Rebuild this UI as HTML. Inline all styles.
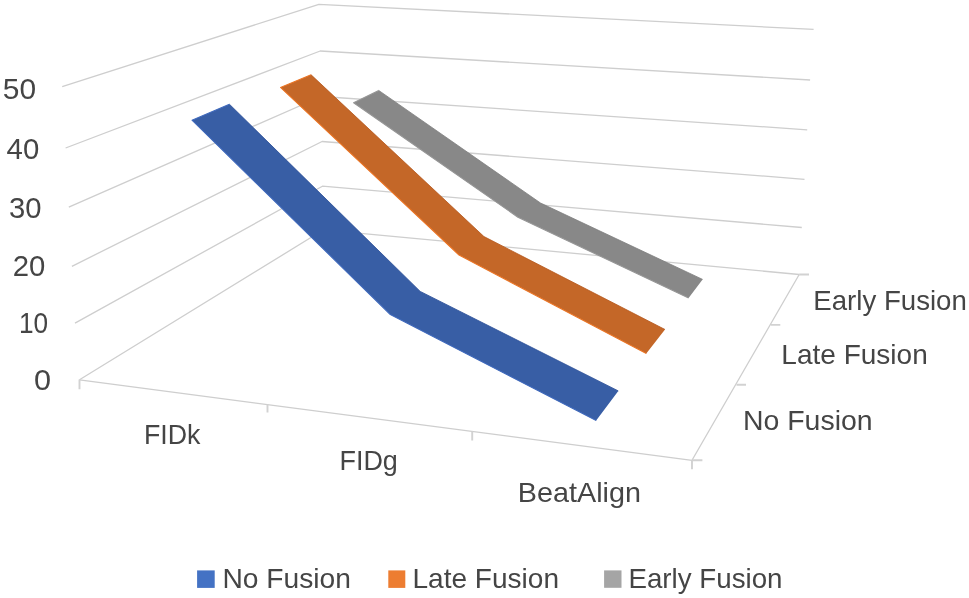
<!DOCTYPE html>
<html><head><meta charset="utf-8"><title>Chart</title>
<style>html,body{margin:0;padding:0;background:#fff}svg{display:block}</style></head>
<body>
<svg width="969" height="598" viewBox="0 0 969 598">
<rect width="969" height="598" fill="#fff"/>
<g fill="none" stroke="#cecece" stroke-width="1.3" stroke-linejoin="round" stroke-linecap="butt">
<polyline points="62.2,86.7 318.9,4.3 813.6,29.4"/>
<polyline points="65.6,148.0 320.2,51.0 810.1,80.0"/>
<polyline points="68.8,207.1 321.2,96.5 807.2,129.8"/>
<polyline points="71.9,266.3 322.1,141.5 804.5,179.3"/>
<polyline points="75.0,323.1 322.4,186.2 801.8,227.5"/>
<polyline points="79.5,379.8 323.5,229.8 799.2,274.5"/>
<polyline points="79.5,379.9 692,460.3 799.2,274.5"/>
<path stroke-width="1.9" stroke="#d2d2d2" d="M79.5,379.6V389.2 M267.5,404.4V412.5 M472.2,431.4V440.5 M692,460.3V469.3 M692,460.3H702.4 M736.5,384.7H746 M770.8,324.9H780.3 M799.2,274.5H809"/>
</g>
<polygon points="353.6,102.7 378.7,90.4 540.5,203.0 702.6,279.4 688.6,298.0 517.9,217.2" fill="#888888"/>
<polyline points="378.7,90.4 540.5,203.0 702.6,279.4" fill="none" stroke="#7e7e7e" stroke-width="0.8" stroke-linejoin="round"/>
<polyline points="378.7,90.4 353.6,102.7 517.9,217.2 688.6,298.0" fill="none" stroke="#969696" stroke-width="1.1" stroke-linejoin="round"/>
<polygon points="280.5,87.4 311.1,74.8 483.9,236.5 665.0,329.5 646.3,353.5 459.0,255.0" fill="#c46728"/>
<polyline points="311.1,74.8 483.9,236.5 665.0,329.5" fill="none" stroke="#b4561a" stroke-width="0.8" stroke-linejoin="round"/>
<polyline points="311.1,74.8 280.5,87.4 459.0,255.0 646.3,353.5" fill="none" stroke="#ea7424" stroke-width="1.1" stroke-linejoin="round"/>
<polygon points="192.0,120.2 229.4,104.2 420.2,291.4 618.3,390.9 596.2,420.6 390.3,314.6" fill="#385ea5"/>
<polyline points="229.4,104.2 420.2,291.4 618.3,390.9" fill="none" stroke="#274b96" stroke-width="0.8" stroke-linejoin="round"/>
<polyline points="229.4,104.2 192.0,120.2 390.3,314.6 596.2,420.6" fill="none" stroke="#3f69bc" stroke-width="1.1" stroke-linejoin="round"/>
<g font-family="Liberation Sans, Arial, sans-serif" fill="#454545">
<text x="2.76" y="98.60" textLength="33.29" lengthAdjust="spacingAndGlyphs" font-size="29.6">50</text>
<text x="6.58" y="158.50" textLength="32.67" lengthAdjust="spacingAndGlyphs" font-size="29.6">40</text>
<text x="9.03" y="217.50" textLength="32.51" lengthAdjust="spacingAndGlyphs" font-size="29.6">30</text>
<text x="12.69" y="276.10" textLength="32.61" lengthAdjust="spacingAndGlyphs" font-size="29.6">20</text>
<text x="19.03" y="333.30" textLength="29.16" lengthAdjust="spacingAndGlyphs" font-size="29.6">10</text>
<text x="33.94" y="390.20" textLength="17.05" lengthAdjust="spacingAndGlyphs" font-size="29.6">0</text>
<text x="143.96" y="443.80" textLength="56.46" lengthAdjust="spacingAndGlyphs" font-size="28.1">FIDk</text>
<text x="339.48" y="469.90" textLength="58.39" lengthAdjust="spacingAndGlyphs" font-size="28.1">FIDg</text>
<text x="517.87" y="502.30" textLength="123.05" lengthAdjust="spacingAndGlyphs" font-size="28.1">BeatAlign</text>
<text x="742.94" y="429.50" textLength="129.69" lengthAdjust="spacingAndGlyphs" font-size="28.1">No Fusion</text>
<text x="781.36" y="363.50" textLength="146.37" lengthAdjust="spacingAndGlyphs" font-size="28.1">Late Fusion</text>
<text x="813.27" y="309.50" textLength="153.55" lengthAdjust="spacingAndGlyphs" font-size="28.1">Early Fusion</text>
<text x="222.45" y="587.60" textLength="128.57" lengthAdjust="spacingAndGlyphs" font-size="28.1">No Fusion</text>
<text x="412.46" y="587.60" textLength="146.58" lengthAdjust="spacingAndGlyphs" font-size="28.1">Late Fusion</text>
<text x="628.46" y="587.60" textLength="154.07" lengthAdjust="spacingAndGlyphs" font-size="28.1">Early Fusion</text>
</g>
<rect x="197.1" y="570.4" width="17.6" height="17.5" fill="#4472c4"/>
<rect x="388.3" y="570.4" width="17" height="17.5" fill="#ed7d31"/>
<rect x="604.1" y="570.4" width="17.4" height="17.4" fill="#a5a5a5"/>
</svg>
</body></html>
